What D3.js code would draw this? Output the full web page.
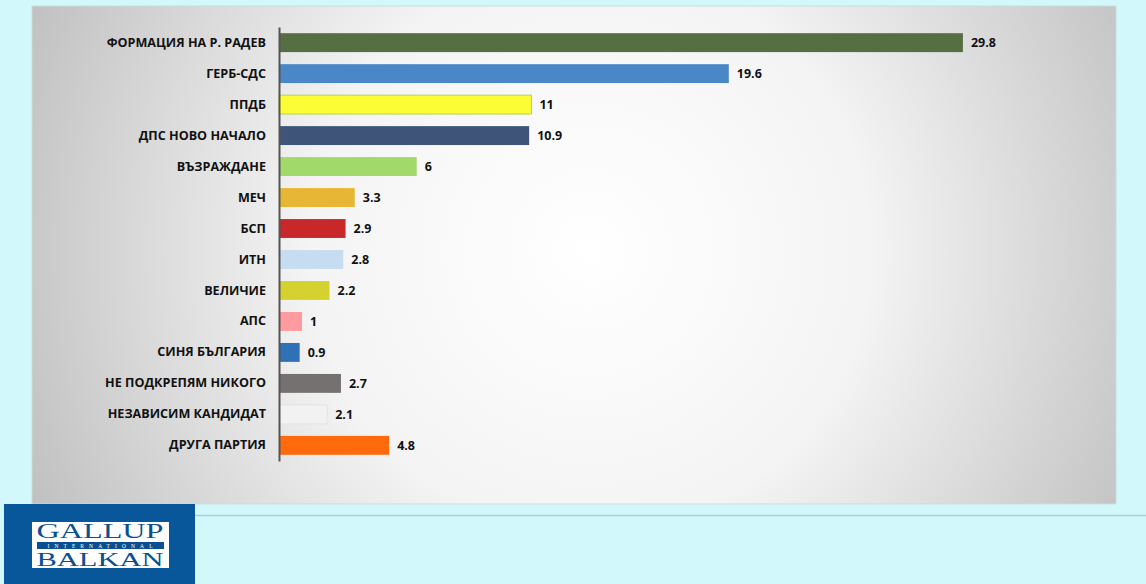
<!DOCTYPE html>
<html><head><meta charset="utf-8">
<script src="https://cdn.jsdelivr.net/npm/d3@7"></script>
<style>
html,body{margin:0;padding:0;background:#d3f8fb;}
svg{display:block;}
</style></head>
<body>
<svg id="c" width="1146" height="584"></svg>
<script>
const categories = ["ФОРМАЦИЯ НА Р. РАДЕВ","ГЕРБ-СДС","ППДБ","ДПС НОВО НАЧАЛО","ВЪЗРАЖДАНЕ","МЕЧ","БСП","ИТН","ВЕЛИЧИЕ","АПС","СИНЯ БЪЛГАРИЯ","НЕ ПОДКРЕПЯМ НИКОГО","НЕЗАВИСИМ КАНДИДАТ","ДРУГА ПАРТИЯ"];
const values = [29.8,19.6,11,10.9,6,3.3,2.9,2.8,2.2,1,0.9,2.7,2.1,4.8];
const valueLabels = ["29.8","19.6","11","10.9","6","3.3","2.9","2.8","2.2","1","0.9","2.7","2.1","4.8"];
const colors = ["#566f40","#4a87c6","#fdfd36","#3e5479","#a2d96b","#e7b733","#c9282a","#c6dcf0","#d5d22f","#ff9a9e","#2f71b7","#767171","#f2f2f2","#ff6b0c"];
const strokes = [null,null,"#b8d060",null,null,null,null,null,null,null,null,null,"#e4e4e4",null];

const svg = d3.select("#c");
const defs = svg.append("defs");
const rg = defs.append("radialGradient").attr("id","bg")
  .attr("gradientUnits","userSpaceOnUse").attr("cx",590).attr("cy",250).attr("r",620);
rg.append("stop").attr("offset","0").attr("stop-color","#ffffff");
rg.append("stop").attr("offset","0.45").attr("stop-color","#f4f4f4");
rg.append("stop").attr("offset","1").attr("stop-color","#bfbfbf");

// panel
svg.append("rect").attr("x",32).attr("y",6).attr("width",1084).attr("height",498)
  .attr("fill","url(#bg)").attr("stroke","#c9dcdc").attr("stroke-width",1);

// footer line
svg.append("line").attr("x1",195).attr("x2",1146).attr("y1",515.5).attr("y2",515.5)
  .attr("stroke","#a9cfe0").attr("stroke-width",1.5);

const x = d3.scaleLinear().domain([0,30]).range([279,279+30*22.95]);
const y = d3.scaleBand().domain(categories).range([27,461]).paddingInner(0.39).paddingOuter(0.2);

const g = svg.append("g");
g.selectAll("rect.bar").data(categories).join("rect")
  .attr("class","bar")
  .attr("x",x(0)).attr("y",d=>y(d))
  .attr("width",(d,i)=>x(values[i])-x(0))
  .attr("height",y.bandwidth())
  .attr("fill",(d,i)=>colors[i])
  .attr("stroke",(d,i)=>strokes[i]||"none");

g.selectAll("text.val").data(categories).join("text")
  .attr("class","val")
  .attr("x",(d,i)=>x(values[i])+8)
  .attr("y",d=>y(d)+y.bandwidth()/2)
  .attr("dy","0.36em")
  .attr("font-family","'Open Sans', sans-serif").attr("font-weight","bold")
  .attr("font-size","12.5px").attr("fill","#111")
  .text((d,i)=>valueLabels[i]);

const axis = d3.axisLeft(y).tickSize(0).tickPadding(13);
const ag = svg.append("g").attr("transform",`translate(${x(0)},0)`).call(axis);
ag.select(".domain").attr("stroke","#555").attr("stroke-width",2);
ag.selectAll("text").attr("font-family","'Open Sans', sans-serif").attr("font-weight","bold")
  .attr("font-size","12.6px").attr("fill","#111");

// logo
const lg = svg.append("g");
lg.append("rect").attr("x",4).attr("y",504).attr("width",191).attr("height",80).attr("fill","#07579a");
lg.append("rect").attr("x",32).attr("y",522).attr("width",137).attr("height",46).attr("fill","#ffffff");
lg.append("rect").attr("x",37).attr("y",542).attr("width",127).attr("height",7).attr("fill","#0a4f8f");
const lfont = "'Liberation Serif', serif";
lg.append("text").attr("x",100).attr("y",538).attr("text-anchor","middle")
  .attr("font-family",lfont).attr("font-size","20px").attr("fill","#0a4f8f")
  .attr("textLength",127).attr("lengthAdjust","spacingAndGlyphs").text("GALLUP");
lg.append("text").attr("x",100).attr("y",548).attr("text-anchor","middle")
  .attr("font-family",lfont).attr("font-size","5.5px").attr("fill","#ffffff")
  .attr("textLength",105).attr("lengthAdjust","spacing").text("INTERNATIONAL");
lg.append("text").attr("x",100).attr("y",566).attr("text-anchor","middle")
  .attr("font-family",lfont).attr("font-size","18px").attr("fill","#0a4f8f")
  .attr("textLength",127).attr("lengthAdjust","spacingAndGlyphs").text("BALKAN");
</script>
</body></html>
